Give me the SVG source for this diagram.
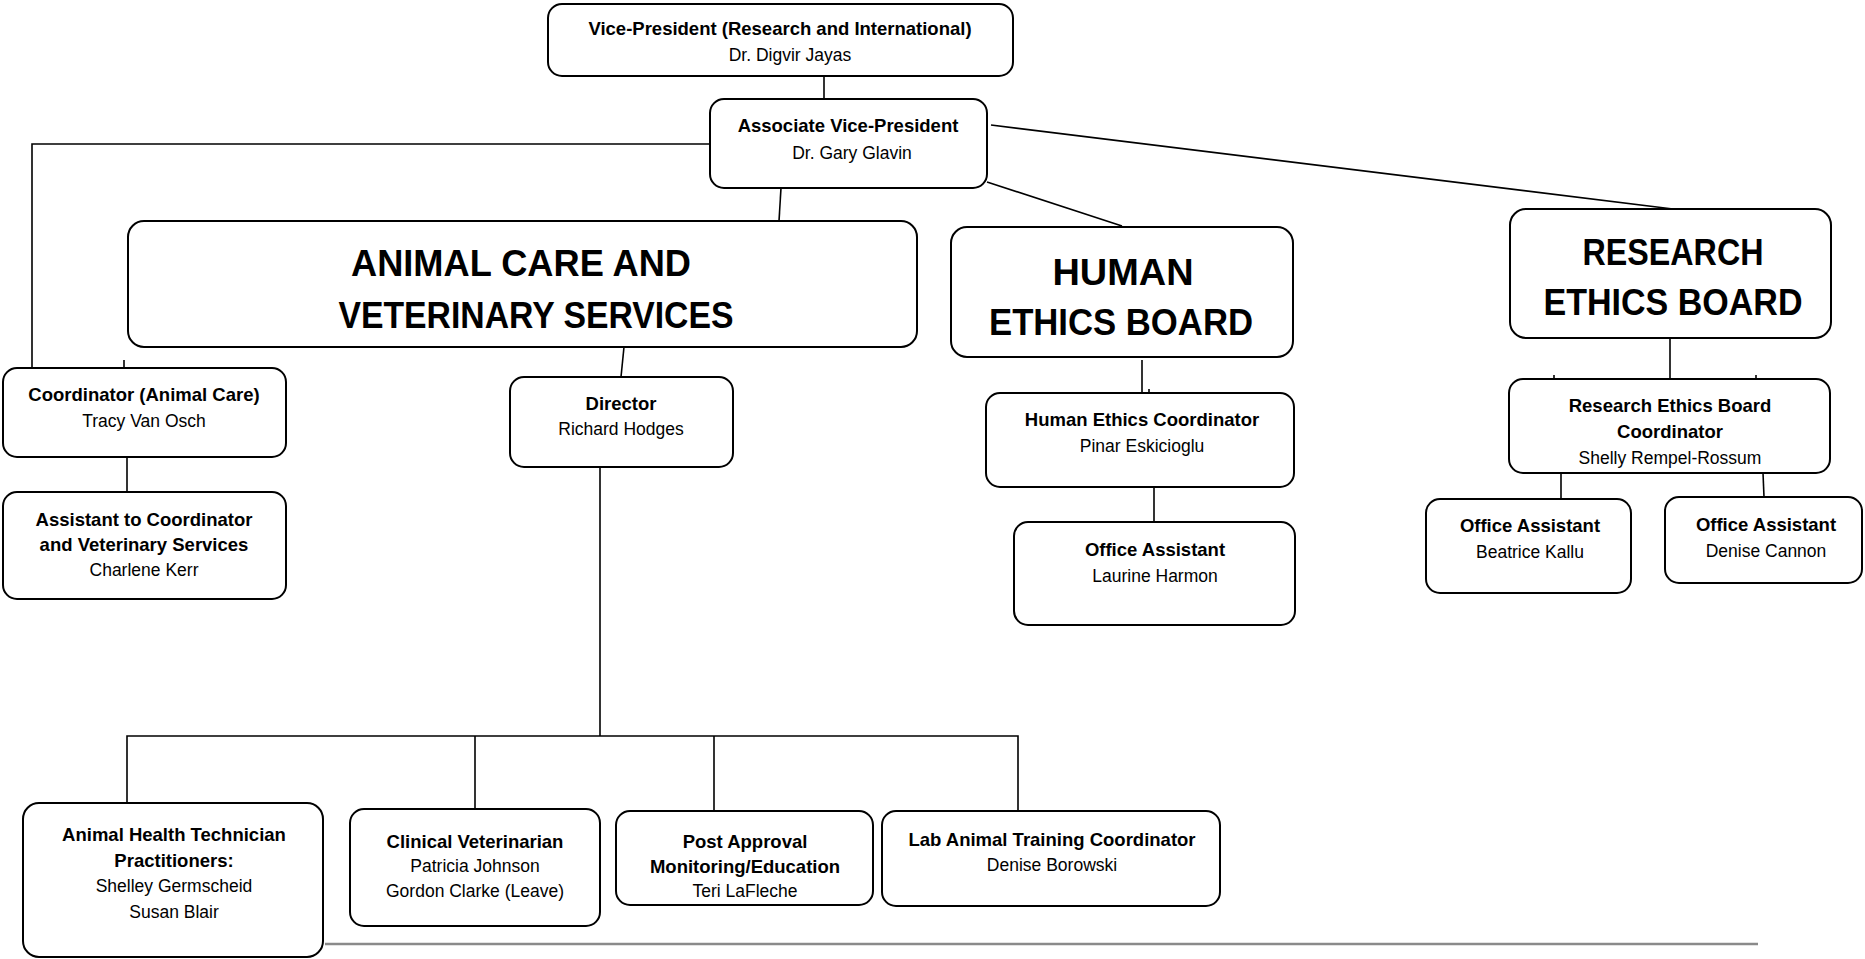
<svg xmlns="http://www.w3.org/2000/svg" width="1865" height="959" viewBox="0 0 1865 959">
<style>
  .box{fill:#fff;stroke:#000;stroke-width:2}
  .ln{fill:none;stroke:#000;stroke-width:1.6}
  text{font-family:"Liberation Sans",Arial,sans-serif;font-size:17.5px;fill:#000;text-anchor:middle}
  .b{font-weight:bold;font-size:18.5px}
  .h{font-weight:bold;font-size:36px}
</style>
<rect width="1865" height="959" fill="#fff"/>
<g id="connectors">
  <path class="ln" d="M824,76 V99"/>
  <path class="ln" d="M710,144 H32 V368"/>
  <path class="ln" d="M781,188 L779,221"/>
  <path class="ln" d="M987,182 L1122,226"/>
  <path class="ln" d="M991,125 L1673,209"/>
  <path class="ln" d="M124,360 V368"/>
  <path class="ln" d="M127,457 V492"/>
  <path class="ln" d="M624,347 L621,377"/>
  <path class="ln" d="M600,467 V736"/>
  <path class="ln" d="M127,803 V736 H1018 V811"/>
  <path class="ln" d="M475,736 V809"/>
  <path class="ln" d="M714,736 V811"/>
  <path class="ln" d="M1142,360 V393"/>
  <path class="ln" d="M1149,389 V393"/>
  <path class="ln" d="M1154,487 V522"/>
  <path class="ln" d="M1670,338 V379"/>
  <path class="ln" d="M1554,375 V379"/>
  <path class="ln" d="M1756,375 V379"/>
  <path class="ln" d="M1561,473 V499"/>
  <path class="ln" d="M1763,473 L1764,497"/>
  <path d="M325,944 H1758" fill="none" stroke="#8a8a8a" stroke-width="2.5"/>
</g>
<g id="vp">
  <rect class="box" x="548" y="4" width="465" height="72" rx="14"/>
  <text class="b" x="780" y="35">Vice-President (Research and International)</text>
  <text x="790" y="61">Dr. Digvir Jayas</text>
</g>
<g id="avp">
  <rect class="box" x="710" y="99" width="277" height="89" rx="14"/>
  <text class="b" x="848" y="132">Associate Vice-President</text>
  <text x="852" y="159">Dr. Gary Glavin</text>
</g>
<g id="acvs">
  <rect class="box" x="128" y="221" width="789" height="126" rx="16"/>
  <text class="h" x="521" y="276" textLength="340" lengthAdjust="spacingAndGlyphs">ANIMAL CARE AND</text>
  <text class="h" x="536" y="328" textLength="395" lengthAdjust="spacingAndGlyphs">VETERINARY SERVICES</text>
</g>
<g id="heb">
  <rect class="box" x="951" y="227" width="342" height="130" rx="16"/>
  <text class="h" x="1123" y="285" textLength="141" lengthAdjust="spacingAndGlyphs">HUMAN</text>
  <text class="h" x="1121" y="335" textLength="264" lengthAdjust="spacingAndGlyphs">ETHICS BOARD</text>
</g>
<g id="reb">
  <rect class="box" x="1510" y="209" width="321" height="129" rx="16"/>
  <text class="h" x="1673" y="265" textLength="181" lengthAdjust="spacingAndGlyphs">RESEARCH</text>
  <text class="h" x="1673" y="315" textLength="259" lengthAdjust="spacingAndGlyphs">ETHICS BOARD</text>
</g>
<g id="coordinator">
  <rect class="box" x="3" y="368" width="283" height="89" rx="14"/>
  <text class="b" x="144" y="401">Coordinator (Animal Care)</text>
  <text x="144" y="427">Tracy Van Osch</text>
</g>
<g id="assistant">
  <rect class="box" x="3" y="492" width="283" height="107" rx="14"/>
  <text class="b" x="144" y="526">Assistant to Coordinator</text>
  <text class="b" x="144" y="551">and Veterinary Services</text>
  <text x="144" y="576">Charlene Kerr</text>
</g>
<g id="director">
  <rect class="box" x="510" y="377" width="223" height="90" rx="14"/>
  <text class="b" x="621" y="410">Director</text>
  <text x="621" y="435">Richard Hodges</text>
</g>
<g id="hec">
  <rect class="box" x="986" y="393" width="308" height="94" rx="14"/>
  <text class="b" x="1142" y="426">Human Ethics Coordinator</text>
  <text x="1142" y="452">Pinar Eskicioglu</text>
</g>
<g id="oa-laurine">
  <rect class="box" x="1014" y="522" width="281" height="103" rx="14"/>
  <text class="b" x="1155" y="556">Office Assistant</text>
  <text x="1155" y="582">Laurine Harmon</text>
</g>
<g id="rebc">
  <rect class="box" x="1509" y="379" width="321" height="94" rx="14"/>
  <text class="b" x="1670" y="412">Research Ethics Board</text>
  <text class="b" x="1670" y="438">Coordinator</text>
  <text x="1670" y="464">Shelly Rempel-Rossum</text>
</g>
<g id="oa-beatrice">
  <rect class="box" x="1426" y="499" width="205" height="94" rx="14"/>
  <text class="b" x="1530" y="532">Office Assistant</text>
  <text x="1530" y="558">Beatrice Kallu</text>
</g>
<g id="oa-denise">
  <rect class="box" x="1665" y="497" width="197" height="86" rx="14"/>
  <text class="b" x="1766" y="531">Office Assistant</text>
  <text x="1766" y="557">Denise Cannon</text>
</g>
<g id="aht">
  <rect class="box" x="23" y="803" width="300" height="154" rx="16"/>
  <text class="b" x="174" y="841">Animal Health Technician</text>
  <text class="b" x="174" y="867">Practitioners:</text>
  <text x="174" y="892">Shelley Germscheid</text>
  <text x="174" y="918">Susan Blair</text>
</g>
<g id="clinical">
  <rect class="box" x="350" y="809" width="250" height="117" rx="14"/>
  <text class="b" x="475" y="848">Clinical Veterinarian</text>
  <text x="475" y="872">Patricia Johnson</text>
  <text x="475" y="897">Gordon Clarke (Leave)</text>
</g>
<g id="post-approval">
  <rect class="box" x="616" y="811" width="257" height="94" rx="14"/>
  <text class="b" x="745" y="848">Post Approval</text>
  <text class="b" x="745" y="873">Monitoring/Education</text>
  <text x="745" y="897">Teri LaFleche</text>
</g>
<g id="lab-animal">
  <rect class="box" x="882" y="811" width="338" height="95" rx="14"/>
  <text class="b" x="1052" y="846">Lab Animal Training Coordinator</text>
  <text x="1052" y="871">Denise Borowski</text>
</g>
</svg>
